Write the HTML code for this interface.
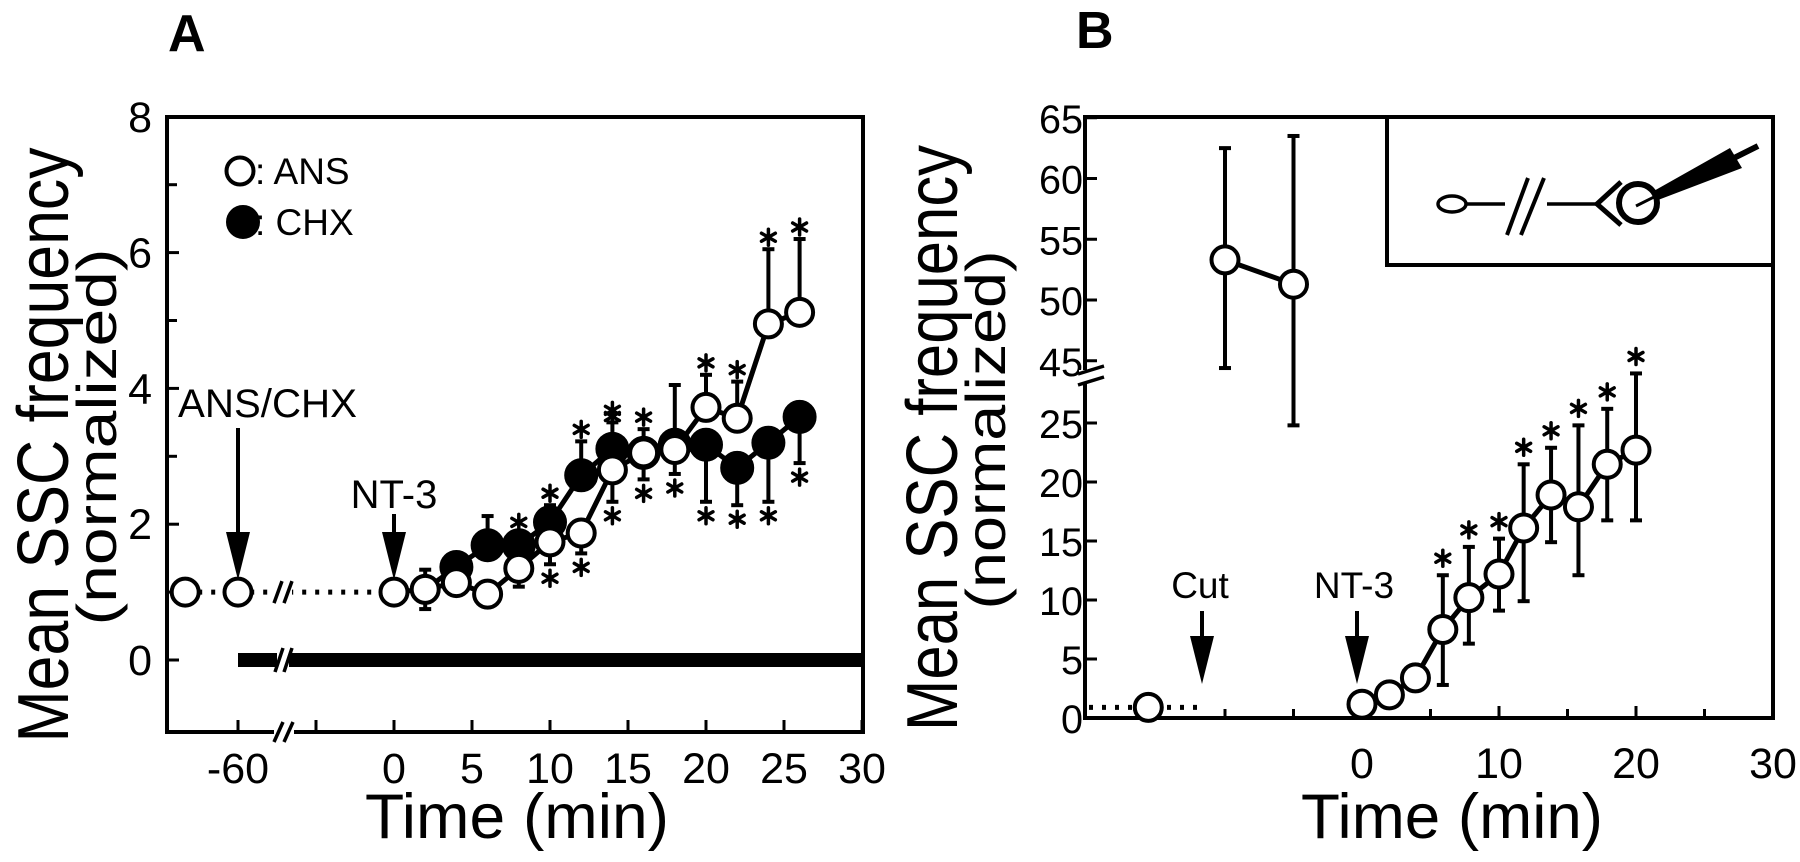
<!DOCTYPE html>
<html><head><meta charset="utf-8"><style>
html,body{margin:0;padding:0;background:#fff;}
svg{display:block;font-family:"Liberation Sans",Arial,sans-serif;}
</style></head><body>
<svg id="fig" width="1800" height="862" viewBox="0 0 1800 862" xmlns="http://www.w3.org/2000/svg">
<g id="pa"></g>
<g id="pb"></g>
</svg>
<script>
// ---------- Panel A data ----------
const aPreTimes = [-80, -60];
const aPreValues = [1.0, 1.0];
const ansTimes = [0, 2, 4, 6, 8, 10, 12, 14, 16, 18, 20, 22, 24, 26];
const ansValues = [1.0, 1.04, 1.14, 0.97, 1.35, 1.74, 1.87, 2.8, 3.05, 3.1, 3.72, 3.56, 4.95, 5.12];
const ansErrUp = [null, 1.33, null, null, null, null, null, 3.5, 3.4, 4.05, 4.2, 4.1, 6.05, 6.2];
const ansErrDn = [null, 0.75, null, null, 1.08, 1.41, 1.57, 2.33, 2.66, 2.74, null, null, null, null];
const ansStarUp = [0,0,0,0,0,0,0,1,1,0,1,1,1,1];
const ansStarDn = [0,0,0,0,0,1,1,1,1,1,0,0,0,0];
const chxTimes = [4, 6, 8, 10, 12, 14, 16, 18, 20, 22, 24, 26];
const chxValues = [1.37, 1.69, 1.69, 2.03, 2.72, 3.11, 3.05, 3.17, 3.17, 2.83, 3.2, 3.58];
const chxErrUp = [null, 2.12, 1.85, 2.28, 3.22, null, null, null, null, null, null, null];
const chxErrDn = [null, null, null, null, null, null, null, null, 2.33, 2.28, 2.33, 2.9];
const chxStarUp = [0,0,1,1,1,1,0,0,0,0,0,0];
const chxStarDn = [0,0,0,0,0,0,0,0,1,1,1,1];
const aYTicks = [0, 2, 4, 6, 8];
const aYMinor = [-1, 1, 3, 5, 7];
const aXTicks = [0, 5, 10, 15, 20, 25, 30];
// ---------- Panel B data ----------
const bPreTimes = [-15.6];
const bPreValues = [0.9];
const bCutTimes = [-10, -5];
const bCutValues = [53.3, 51.3];
const bCutErrUp = [62.5, 63.5];
const bCutErrDn = [44.4, 24.8];
const bTimes = [0, 2, 3.9, 5.9, 7.8, 10, 11.8, 13.8, 15.8, 17.9, 20];
const bValues = [1.17, 1.96, 3.4, 7.5, 10.2, 12.2, 16.1, 18.9, 17.9, 21.5, 22.7];
const bErrUp = [null, null, null, 12.1, 14.5, 15.2, 21.5, 22.9, 24.8, 26.2, 29.2];
const bErrDn = [null, null, null, 2.8, 6.3, 9.1, 9.9, 14.9, 12.1, 16.75, 16.75];
const bYTicksLow = [0, 5, 10, 15, 20, 25];
const bYTicksHigh = [45, 50, 55, 60, 65];
const bXTicks = [0, 10, 20, 30];
const bXMinor = [5, 15, 25];

const NS = "http://www.w3.org/2000/svg";
function mk(parent, tag, attrs, text){
  const e = document.createElementNS(NS, tag);
  for (const k in attrs) e.setAttribute(k, attrs[k]);
  if (text !== undefined) e.textContent = text;
  parent.appendChild(e);
  return e;
}
function star(g, cx, cy){
  const s = mk(g, 'g', {stroke:'#000','stroke-width':3.5,'stroke-linecap':'round'});
  
  
  for (let k = 0; k < 3; k++){
    const a = Math.PI/2 + k*Math.PI/3;
    mk(s, 'line', {x1:cx+8*Math.cos(a), y1:cy+8*Math.sin(a), x2:cx-8*Math.cos(a), y2:cy-8*Math.sin(a)});
  }
}
function errbar(g, x, y1, y2){
  const l = mk(g, 'line', {x1:x, y1:y1, x2:x, y2:y2, stroke:'#000','stroke-width':4});
  
  
  const c = mk(g, 'line', {x1:x-6, y1:y2, x2:x+6, y2:y2, stroke:'#000','stroke-width':4});
  
  
}
function arrow(g, x, y0, yTip, name){
  const a = mk(g, 'g', {});
  
  
  mk(a, 'line', {x1:x, y1:y0, x2:x, y2:yTip-30, stroke:'#000','stroke-width':4});
  mk(a, 'polygon', {points:`${x-12},${yTip-48} ${x+12},${yTip-48} ${x},${yTip}`, fill:'#000'});
}
function marker(g, x, y, filled, name, r){
  const c = mk(g, 'circle', {cx:x, cy:y, r:r||13.5, fill: filled?'#000':'#fff', stroke:'#000','stroke-width':4});
  
  
}

// ================= PANEL A =================
(function(){
  const g = document.getElementById('pa');
  const L=167, R=863, T=117, B=732;
  const y = v => 660 - 67.9*v;
  const x = t => 394 + 15.6*t;
  const xp = t => 238 + (t+60)*2.64;
  mk(g,'text',{x:168,y:51,'font-size':52,'font-weight':'bold',},'A');
  mk(g,'rect',{x:L,y:T,width:R-L,height:B-T,fill:'none',stroke:'#000','stroke-width':4,});
  aYTicks.forEach(v=>{
    const t = mk(g,'line',{x1:L,y1:y(v),x2:L+12,y2:y(v),stroke:'#000','stroke-width':3});
     
    const lb = mk(g,'text',{x:152,y:y(v)+15,'font-size':43,'text-anchor':'end'}, String(v));
     
  });
  aYMinor.forEach(v=>{ if (v<0) return;
    const t = mk(g,'line',{x1:L,y1:y(v),x2:L+10,y2:y(v),stroke:'#000','stroke-width':3});
     
  });
  aXTicks.forEach(v=>{
    const t = mk(g,'line',{x1:x(v),y1:B,x2:x(v),y2:B-12,stroke:'#000','stroke-width':3});
     
    const lb = mk(g,'text',{x:x(v),y:783,'font-size':43,'text-anchor':'middle'}, String(v));
     
  });
  mk(g,'line',{x1:xp(-60),y1:B,x2:xp(-60),y2:B-12,stroke:'#000','stroke-width':3,});
  mk(g,'line',{x1:316,y1:B,x2:316,y2:B-12,stroke:'#000','stroke-width':3,});
  mk(g,'text',{x:xp(-60),y:783,'font-size':43,'text-anchor':'middle',},'-60');
  mk(g,'rect',{x:274,y:B-6,width:20,height:12,fill:'#fff',});
  mk(g,'path',{d:`M274,${B+10} L283,${B-10} M284,${B+10} L293,${B-10}`,stroke:'#000','stroke-width':3.5,fill:'none',});
  mk(g,'rect',{x:xp(-60),y:y(0)-7,width:R-xp(-60),height:14,fill:'#000',});
  mk(g,'rect',{x:277,y:y(0)-9,width:12,height:18,fill:'#fff',});
  mk(g,'path',{d:`M275,${y(0)+12} L283,${y(0)-12} M284,${y(0)+12} L292,${y(0)-12}`,stroke:'#000','stroke-width':3.5,fill:'none',});
  mk(g,'line',{x1:xp(aPreTimes[0]),y1:y(aPreValues[0]),x2:x(0),y2:y(aPreValues[1]),stroke:'#000','stroke-width':5,'stroke-dasharray':'4 9','stroke-linecap':'butt',});
  mk(g,'rect',{x:276,y:y(1)-12,width:16,height:24,fill:'#fff',});
  mk(g,'path',{d:`M274,${y(1)+11} L282,${y(1)-11} M284,${y(1)+11} L292,${y(1)-11}`,stroke:'#000','stroke-width':3.5,fill:'none',});
  mk(g,'text',{x:178,y:417,'font-size':40,textLength:179,'lengthAdjust':'spacingAndGlyphs',},'ANS/CHX');
  arrow(g, xp(-60), 428, 580, 'ans-chx-arrow');
  mk(g,'text',{x:x(0),y:508,'font-size':40,'text-anchor':'middle',},'NT-3');
  arrow(g, x(0), 514, 580, 'nt3-arrow');
  chxTimes.forEach((t,i)=>{
    if (chxErrUp[i]!==null){ errbar(g,x(t),y(chxValues[i]),y(chxErrUp[i])); }
    if (chxErrDn[i]!==null){ errbar(g,x(t),y(chxValues[i]),y(chxErrDn[i])); }
  });
  ansTimes.forEach((t,i)=>{
    if (ansErrUp[i]!==null){ errbar(g,x(t),y(ansValues[i]),y(ansErrUp[i])); }
    if (ansErrDn[i]!==null){ errbar(g,x(t),y(ansValues[i]),y(ansErrDn[i])); }
  });
  const chxPts = chxTimes.map((t,i)=>`${x(t)},${y(chxValues[i])}`).join(' ');
  mk(g,'polyline',{points:`${x(2)},${y(ansValues[1])} `+chxPts,fill:'none',stroke:'#000','stroke-width':5,});
  const ansPts = ansTimes.map((t,i)=>`${x(t)},${y(ansValues[i])}`).join(' ');
  mk(g,'polyline',{points:ansPts,fill:'none',stroke:'#000','stroke-width':5,});
  chxTimes.forEach((t,i)=> marker(g,x(t),y(chxValues[i]),true,'chx-point',15));
  ansTimes.forEach((t,i)=> marker(g,x(t),y(ansValues[i]),false,'ans-point'));
  aPreTimes.forEach((t,i)=> marker(g,xp(t),y(aPreValues[i]),false,'ans-baseline-point'));
  ansTimes.forEach((t,i)=>{
    if (ansStarUp[i]) star(g,x(t),y(ansErrUp[i]!==null?ansErrUp[i]:ansValues[i]+0.3)-12);
    if (ansStarDn[i]) star(g,x(t),y(ansErrDn[i]!==null?ansErrDn[i]:ansValues[i]-0.3)+14);
  });
  chxTimes.forEach((t,i)=>{
    if (chxStarUp[i]) star(g,x(t),y(chxErrUp[i]!==null?chxErrUp[i]:chxValues[i]+0.3)-12);
    if (chxStarDn[i]) star(g,x(t),y(chxErrDn[i]!==null?chxErrDn[i]:chxValues[i]-0.3)+14);
  });
  marker(g,240,171,false,'legend-ans-marker');
  mk(g,'text',{x:255,y:184,'font-size':37,},': ANS');
  marker(g,243,222,true,'legend-chx-marker',15);
  mk(g,'text',{x:255,y:235,'font-size':37,},': CHX');
  mk(g,'text',{x:0,y:0,'font-size':72,'text-anchor':'middle',textLength:595,'lengthAdjust':'spacingAndGlyphs',transform:'translate(68,445) rotate(-90)',},'Mean SSC  frequency');
  mk(g,'text',{x:0,y:0,'font-size':56,'text-anchor':'middle',textLength:377,'lengthAdjust':'spacingAndGlyphs',transform:'translate(116,437) rotate(-90)',},'(normalized)');
  mk(g,'text',{x:365,y:838,'font-size':63,textLength:304,'lengthAdjust':'spacingAndGlyphs',},'Time  (min)');
})();

// ================= PANEL B =================
(function(){
  const g = document.getElementById('pb');
  const L=1085, R=1773, T=117, B=718;
  const y = v => v >= 40 ? 300 - 12.15*(v-50) : 718 - 11.8*v;
  const x = t => 1362 + 13.7*t;
  mk(g,'text',{x:1076,y:48,'font-size':52,'font-weight':'bold',},'B');
  mk(g,'rect',{x:L,y:T,width:R-L,height:B-T,fill:'none',stroke:'#000','stroke-width':4,});
  bYTicksLow.concat(bYTicksHigh).forEach(v=>{
    const t = mk(g,'line',{x1:L,y1:y(v),x2:L+12,y2:y(v),stroke:'#000','stroke-width':3});
     
    const lb = mk(g,'text',{x:L-2,y:y(v)+15,'font-size':40,'text-anchor':'end',textLength: v<10?22:44,'lengthAdjust':'spacingAndGlyphs'}, String(v));
     
  });
  mk(g,'rect',{x:L-6,y:370,width:12,height:14,fill:'#fff',});
  mk(g,'path',{d:'M1078,374 L1104,366 M1078,385 L1104,377',stroke:'#000','stroke-width':3.5,fill:'none',});
  bXTicks.forEach(v=>{
    const t = mk(g,'line',{x1:x(v),y1:B,x2:x(v),y2:B-12,stroke:'#000','stroke-width':3});
     
    const lb = mk(g,'text',{x:x(v),y:778,'font-size':43,'text-anchor':'middle'}, String(v));
     
  });
  bXMinor.forEach(v=>{
    const t = mk(g,'line',{x1:x(v),y1:B,x2:x(v),y2:B-9,stroke:'#000','stroke-width':3});
     
  });
  bCutTimes.forEach(v=>{
    const t = mk(g,'line',{x1:x(v),y1:B,x2:x(v),y2:B-9,stroke:'#000','stroke-width':3});
     
  });
  const ins = mk(g,'g',{});
  mk(ins,'rect',{x:1387,y:T,width:R-1387,height:148,fill:'#fff',stroke:'#000','stroke-width':4});
  mk(ins,'ellipse',{cx:1452,cy:204,rx:14,ry:8,fill:'none',stroke:'#000','stroke-width':3.5});
  mk(ins,'line',{x1:1466,y1:204,x2:1505,y2:204,stroke:'#000','stroke-width':3.5});
  mk(ins,'path',{d:'M1507,235 L1528,178 M1521,235 L1544,178',stroke:'#000','stroke-width':4,fill:'none'});
  mk(ins,'line',{x1:1547,y1:204,x2:1597,y2:204,stroke:'#000','stroke-width':3.5});
  mk(ins,'path',{d:'M1621,182 L1597,204 L1621,225',stroke:'#000','stroke-width':5,fill:'none'});
  mk(ins,'circle',{cx:1638,cy:203,r:19,fill:'none',stroke:'#000','stroke-width':6});
  mk(ins,'polygon',{points:'1652,192 1730,148 1742,168 1658,200',fill:'#000'});
  mk(ins,'line',{x1:1636,y1:206,x2:1660,y2:194,stroke:'#000','stroke-width':3});
  mk(ins,'line',{x1:1734,y1:158,x2:1758,y2:146,stroke:'#000','stroke-width':6});
  mk(g,'text',{x:1200,y:598,'font-size':37,'text-anchor':'middle',},'Cut');
  arrow(g, 1202, 611, 684, 'cut-arrow');
  mk(g,'text',{x:1354,y:598,'font-size':37,'text-anchor':'middle',},'NT-3');
  arrow(g, 1357, 611, 684, 'nt3-arrow-b');
  mk(g,'line',{x1:L+4,y1:y(bPreValues[0]),x2:1202,y2:y(bPreValues[0]),stroke:'#000','stroke-width':5,'stroke-dasharray':'4 9',});
  bCutTimes.forEach((t,i)=>{ errbar(g,x(t),y(bCutValues[i]),y(bCutErrUp[i])); errbar(g,x(t),y(bCutValues[i]),y(bCutErrDn[i])); });
  mk(g,'polyline',{points:bCutTimes.map((t,i)=>`${x(t)},${y(bCutValues[i])}`).join(' '),fill:'none',stroke:'#000','stroke-width':5,});
  bCutTimes.forEach((t,i)=> marker(g,x(t),y(bCutValues[i]),false,'post-cut-point'));
  bTimes.forEach((t,i)=>{
    if (bErrUp[i]!==null) errbar(g,x(t),y(bValues[i]),y(bErrUp[i]));
    if (bErrDn[i]!==null) errbar(g,x(t),y(bValues[i]),y(bErrDn[i]));
  });
  mk(g,'polyline',{points:bTimes.map((t,i)=>`${x(t)},${y(bValues[i])}`).join(' '),fill:'none',stroke:'#000','stroke-width':5,});
  bTimes.forEach((t,i)=> marker(g,x(t),y(bValues[i]),false,'nt3-response-point'));
  bTimes.forEach((t,i)=>{ if (bErrUp[i]!==null) star(g,x(t),y(bErrUp[i])-17); });
  bPreTimes.forEach((t,i)=> marker(g,x(t),y(bPreValues[i]),false,'baseline-point-b'));
  mk(g,'text',{x:0,y:0,'font-size':72,'text-anchor':'middle',textLength:586,'lengthAdjust':'spacingAndGlyphs',transform:'translate(957,438) rotate(-90)',},'Mean SSC  frequency');
  mk(g,'text',{x:0,y:0,'font-size':56,'text-anchor':'middle',textLength:359,'lengthAdjust':'spacingAndGlyphs',transform:'translate(1005,430) rotate(-90)',},'(normalized)');
  mk(g,'text',{x:1301,y:838,'font-size':63,textLength:302,'lengthAdjust':'spacingAndGlyphs',},'Time  (min)');
})();
</script>
</body></html>
